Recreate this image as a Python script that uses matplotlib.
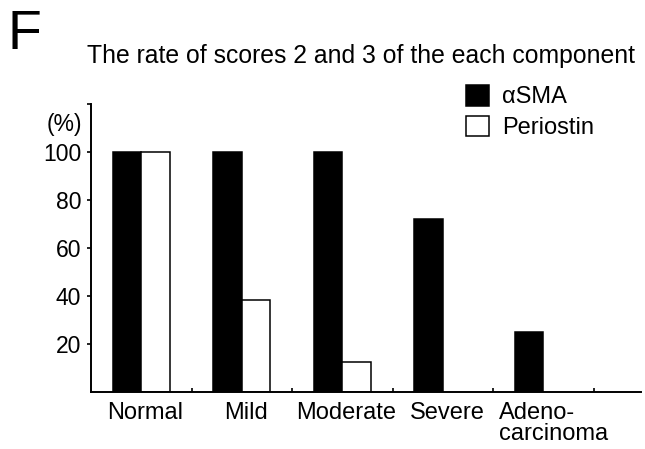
import matplotlib
matplotlib.use("Agg")
import matplotlib.pyplot as plt
import numpy as np
from matplotlib.patches import Patch

plt.rcParams['font.family'] = ['Liberation Sans', 'DejaVu Sans']

categories = ["Normal", "Mild", "Moderate", "Severe", "Adeno-\ncarcinoma"]
asma = [100, 100, 100, 72, 25]
periostin = [100, 38.5, 12.5, 0, 0]
yticks = [20, 40, 60, 80, 100]
series_names = ["\u03b1SMA", "Periostin"]

W, H = 645, 449
fig = plt.figure(figsize=(W/100, H/100), dpi=100)
ax = fig.add_axes([91/W, 1-392.3/H, (641-91)/W, (392.3-104)/H])

x = np.arange(len(categories))
w = 0.285
ax.bar(x - w/2, asma, w, color='black', edgecolor='black', linewidth=1.1)
ax.bar(x + w/2, [v if v > 0 else np.nan for v in periostin], w,
       color='white', edgecolor='black', linewidth=1.1)

ax.set_xlim(-0.5, 4.97)
ax.set_ylim(0, 120)
ax.spines['top'].set_visible(False)
ax.spines['right'].set_visible(False)
ax.spines['left'].set_linewidth(1.4)
ax.spines['bottom'].set_linewidth(1.4)

ax.set_yticks(yticks + [120])
ax.set_yticklabels([str(v) for v in yticks] + [''])
ax.tick_params(axis='y', direction='out', length=3, width=1.2, labelsize=16.5, pad=4)

ax.set_xticks(x + 0.5)
ax.set_xticklabels([])
ax.tick_params(axis='x', which='major', direction='in', length=3, width=1.2)

for xi, lab in zip(x, categories):
    if '\n' in lab:
        ax.annotate(lab, xy=(xi - 0.44, 0), xycoords='data',
                    xytext=(0, -7.3), textcoords='offset points',
                    ha='left', va='top', ma='left', fontsize=17, linespacing=0.9,
                    annotation_clip=False)
    else:
        ax.annotate(lab, xy=(xi + 0.04, 0), xycoords='data',
                    xytext=(0, -7.3), textcoords='offset points',
                    ha='center', va='top', fontsize=17, annotation_clip=False)

ax.text(-0.59, 111.5, "(%)", ha='right', va='center', fontsize=16.5)

fig.text(87/W, 1-63/H, "The rate of scores 2 and 3 of the each component",
         ha='left', va='baseline', fontsize=17.8)
fig.text(8/W, 1-49/H, "F", ha='left', va='baseline', fontsize=40)

handles = [Patch(facecolor='black', edgecolor='black', linewidth=1.1),
           Patch(facecolor='white', edgecolor='black', linewidth=1.1)]
fig.legend(handles, series_names, loc='upper left',
           bbox_to_anchor=(466/W, 1-85/H), frameon=False, fontsize=17,
           borderpad=0, handlelength=0.97, handleheight=0.97, handletextpad=0.55,
           labelspacing=0.3, borderaxespad=0)

fig.savefig("out.png", dpi=100)
